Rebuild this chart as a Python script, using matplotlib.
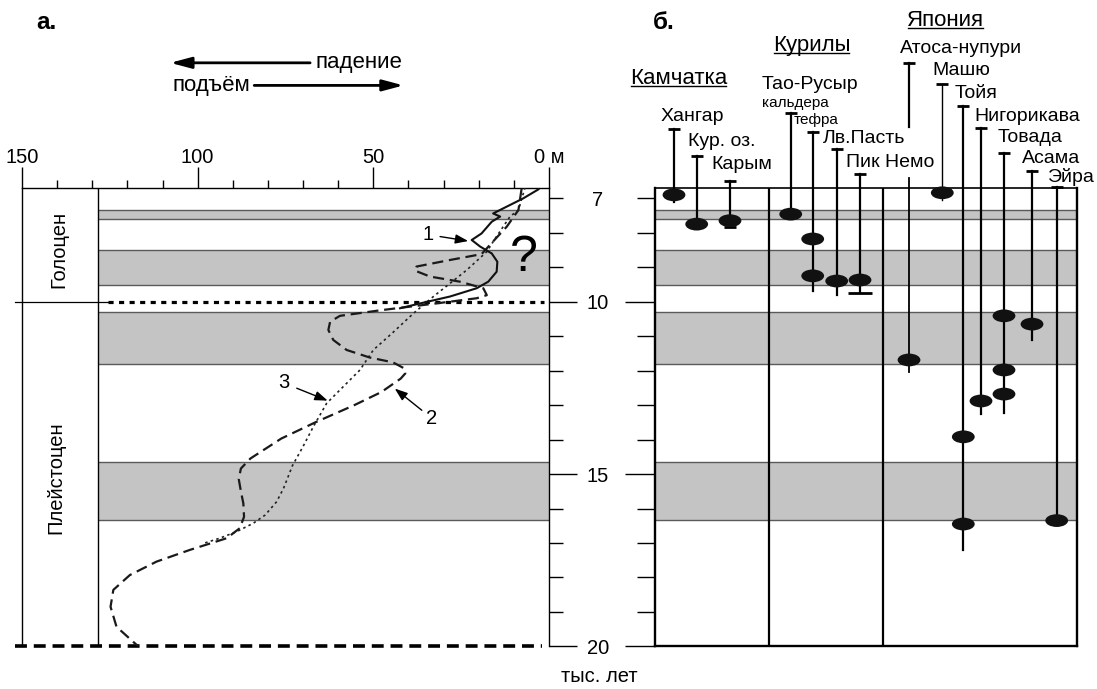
import matplotlib
matplotlib.use('Agg')
import matplotlib.pyplot as plt
from matplotlib.patches import Ellipse
from matplotlib.lines import Line2D
from matplotlib.ticker import FuncFormatter

plt.rcParams['font.family'] = ['Liberation Sans', 'DejaVu Sans']

# ---------------- data ----------------
# cold / warm bands (kyr BP)
band_lo = [7.35, 8.50, 10.31, 14.65]
band_hi = [7.61, 9.52, 11.80, 16.34]

# curve 1 (solid)
c1_m = [3.0, 7.3, 12.0, 15.9, 13.9, 16.3, 19.2, 22.0, 19.6, 16.3, 14.7, 14.9, 17.3,
        20.6, 28.2, 36.7, 42.4]
c1_age = [6.74, 7.00, 7.24, 7.44, 7.53, 7.68, 8.02, 8.21, 8.40, 8.60, 8.84, 9.13, 9.42,
          9.61, 9.85, 10.05, 10.19]

# curve 2 (dashed)
c2_m = [7.8, 8.7, 12.0, 15.9, 19.2, 28.2, 37.7, 38.1, 33.9, 25.3, 18.7, 17.7, 20.6,
        28.2, 37.7, 48.1, 59.5, 62.3, 62.8, 61.4, 57.6, 51.0, 44.4, 41.1,
        40.9, 42.2, 47.7, 55.4, 66.3, 76.2, 85.0, 87.7, 88.3, 87.7, 87.0, 86.8, 88.0,
        91.7, 102.2, 111.7, 119.3, 124.0, 124.8, 123.1, 116.9]
c2_age = [6.72, 7.34, 7.82, 8.25, 8.62, 8.79, 8.98, 9.10, 9.27, 9.42, 9.61, 9.81, 9.90,
          10.00, 10.12, 10.25, 10.41, 10.58, 10.82, 11.11, 11.40, 11.62,
          11.76, 11.94, 12.08, 12.23, 12.62, 13.00, 13.49, 13.97, 14.55, 14.84, 15.15,
          15.50, 15.85, 16.24, 16.57, 16.86, 17.20, 17.54, 17.93, 18.36, 18.85, 19.43,
          20.00]

# curve 3 (dotted)
c3_m = [6.8, 8.7, 11.1, 15.6, 17.7, 23.4, 28.2, 32.9, 38.6, 44.5, 50.0, 53.8, 59.5,
        63.3, 67.1, 70.0, 73.0, 75.5, 77.5, 80.8, 84.2, 88.9, 93.7, 98.0]
c3_age = [6.68, 7.34, 7.53, 8.21, 8.55, 9.08, 9.47, 9.85, 10.34, 10.90, 11.40, 11.98,
          12.56, 12.95, 13.63, 14.20, 14.75, 15.40, 15.80, 16.19, 16.43, 16.67, 16.86,
          17.00]

x_major = [150, 100, 50, 0]
x_major_labels = ['150', '100', '50', '0 м']
y_major = [10, 15, 20]
y_minor = [7, 8, 9, 11, 12, 13, 14, 16, 17, 18, 19]

# volcanoes (panel б)
volc_names = ['Хангар', 'Кур. оз.', 'Карым', 'Тао-Русыр', 'тефра', 'Лв.Пасть',
              'Пик Немо', 'Атоса-нупури', 'Машю', 'Тойя', 'Нигорикава', 'Товада',
              'Асама', 'Эйра']
volc_dates = [[6.90], [7.75], [7.65], [7.46], [8.18, 9.25], [9.40], [9.37], [11.69],
              [6.84], [13.92, 16.45], [12.88], [10.41, 11.98, 12.68], [10.65], [16.35]]
volc_low = [7.10, 7.75, 7.65, 7.46, 9.69, 9.81, 9.74, 12.03, 7.05, 17.20, 13.27,
            13.22, 11.11, 16.35]
volc_bottom_cap = [None, None, 7.84, None, None, None, 9.74, None, None, None, None,
                   None, None, None]

# ---------------- layout ----------------
W, H = 1097, 689
fig = plt.figure(figsize=(W / 100, H / 100), dpi=100)
top_px, bot_px = 188.3, 646.4
ax_bottom = 1 - bot_px / H
ax_height = (bot_px - top_px) / H
AGE_TOP, AGE_BOT = 6.71, 20.0
GRAY = '#c4c4c4'
EDGE = '#5a5a5a'

axL = fig.add_axes([22 / W, ax_bottom, 527 / W, ax_height])
axR = fig.add_axes([655 / W, ax_bottom, 422 / W, ax_height])

# ---------- left panel ----------
axL.set_xlim(150, 0)
axL.set_ylim(AGE_BOT, AGE_TOP)
inner_m = 128.3
for lo, hi in zip(band_lo, band_hi):
    axL.fill_between([inner_m, 0], lo, hi, color=GRAY, lw=0, zorder=0)
    axL.hlines([lo, hi], 0, inner_m, color=EDGE, lw=1.0, zorder=1)
axL.axvline(inner_m, color='k', lw=1.0, zorder=2)

axL.plot([152, 125.5], [10, 10], color='k', lw=0.9, clip_on=False, zorder=3)
axL.plot([125.5, 1.5], [10, 10], color='k', lw=2.3, ls=(0, (1.6, 1.7)),
         dash_capstyle='butt', zorder=3)
axL.plot([152, 2], [20, 20], color='k', lw=2.6, ls=(0, (3.3, 1.9)),
         dash_capstyle='butt', clip_on=False, zorder=3)

axL.plot(c3_m, c3_age, color='#222222', lw=1.2, ls=(0, (1.5, 2.0)), zorder=4)
axL.plot(c2_m, c2_age, color='#1a1a1a', lw=1.6, ls=(0, (5, 2.6)), zorder=4)
axL.plot(c1_m, c1_age, color='#111111', lw=1.5, zorder=5)

# axes styling
for s in ['top', 'left', 'right']:
    axL.spines[s].set_linewidth(1.0)
axL.spines['bottom'].set_visible(False)
axL.xaxis.set_ticks_position('top')
axL.set_xticks(x_major)
axL.set_xticklabels(x_major_labels)
axL.set_xticks(list(range(10, 150, 10)), minor=True)
axL.tick_params(axis='x', which='major', direction='out', length=15, width=1.0,
                labelsize=14.5, pad=0)
axL.tick_params(axis='x', which='minor', direction='out', length=5.8, width=1.0)
axL.yaxis.set_ticks_position('right')
axL.set_yticks(y_major)
axL.set_yticks(y_minor, minor=True)
axL.yaxis.set_minor_formatter(FuncFormatter(lambda v, p: '7' if abs(v - 7) < 1e-6 else ''))
axL.tick_params(axis='y', which='major', direction='out', length=20.2, width=1.0,
                labelsize=14.5, pad=15, labelright=True, labelleft=False)
axL.tick_params(axis='y', which='minor', direction='out', length=10.1, width=1.0,
                labelsize=14.5, pad=25, labelright=True, labelleft=False)
for t in axL.yaxis.get_major_ticks() + axL.yaxis.get_minor_ticks():
    t.label2.set_horizontalalignment('center')

axL.text(-14.2, 20.88, 'тыс. лет', fontsize=14.5, ha='center', va='center')

axL.text(139.6, 8.47, 'Голоцен', rotation=90, fontsize=14.5, ha='center', va='center')
axL.text(140.4, 15.11, 'Плейстоцен', rotation=90, fontsize=14.5, ha='center', va='center')
axL.text(7.3, 8.73, '?', fontsize=36, ha='center', va='center')

small_arrow = dict(arrowstyle='-|>,head_length=0.55,head_width=0.2', lw=1.0,
                   color='k', shrinkA=0, shrinkB=0, mutation_scale=14)
axL.text(34.4, 8.06, '1', fontsize=14.5, ha='center', va='center')
axL.annotate('', xy=(23.0, 8.24), xytext=(31.0, 8.11), arrowprops=small_arrow)
axL.text(75.6, 12.35, '3', fontsize=14.5, ha='center', va='center')
axL.annotate('', xy=(63.0, 12.87), xytext=(71.8, 12.51), arrowprops=small_arrow)
axL.text(33.4, 13.39, '2', fontsize=14.5, ha='center', va='center')
axL.annotate('', xy=(43.9, 12.52), xytext=(36.2, 13.15), arrowprops=small_arrow)

big_arrow = dict(arrowstyle='-|>,head_length=0.9,head_width=0.24', lw=2.0,
                 color='k', shrinkA=0, shrinkB=0, mutation_scale=14)
axL.annotate('', xy=(107.8, 3.07), xytext=(68.0, 3.07), arrowprops=big_arrow,
             annotation_clip=False)
axL.text(66.6, 3.07, 'падение', fontsize=16, ha='left', va='center')
axL.annotate('', xy=(41.4, 3.725), xytext=(83.9, 3.725), arrowprops=big_arrow,
             annotation_clip=False)
axL.text(85.0, 3.725, 'подъём', fontsize=16, ha='right', va='center')
axL.text(146.0, 1.89, 'а.', fontsize=17.5, fontweight='bold', ha='left', va='center')

# ---------- right panel ----------
axR.set_xlim(0, 100)
axR.set_ylim(AGE_BOT, AGE_TOP)
for lo, hi in zip(band_lo, band_hi):
    axR.axhspan(lo, hi, facecolor=GRAY, edgecolor='none', zorder=0)
    axR.axhline(lo, color=EDGE, lw=1.0, zorder=1)
    axR.axhline(hi, color=EDGE, lw=1.0, zorder=1)
dividers = [27.01, 53.96]
for d in dividers:
    axR.axvline(d, color='k', lw=1.6, zorder=2)

for s in ['left', 'right', 'bottom']:
    axR.spines[s].set_linewidth(1.7)
axR.spines['top'].set_linewidth(1.2)
axR.set_xticks([])
axR.yaxis.set_ticks_position('left')
axR.set_yticks(y_major)
axR.set_yticks(y_minor, minor=True)
axR.tick_params(axis='y', which='major', direction='out', length=21.6, width=1.0,
                labelleft=False)
axR.tick_params(axis='y', which='minor', direction='out', length=13.0, width=1.0,
                labelleft=False)

volc_x = [4.50, 9.88, 17.77, 32.16, 37.37, 43.06, 48.58, 60.19, 68.08, 73.06, 77.25,
          82.70, 89.34, 95.19]
volc_cap = [4.99, 5.76, 6.49, 4.53, 5.07, 5.57, 6.30, 3.07, 3.68, 4.32, 4.97, 5.69,
            6.20, 6.68]
volc_lw = [1.6, 1.6, 1.6, 1.6, 1.6, 1.6, 1.6, 1.6, 1.0, 1.6, 1.6, 1.6, 1.6, 1.6]
label_x = [1.35, 7.89, 13.27, 25.28, 32.94, 39.88, 45.26, 58.06, 65.8, 71.09, 75.59,
           81.28, 86.9, 93.2]
label_age = [4.633, 5.358, 6.034, 3.713, 4.729, 5.251, 5.976, 2.640, 3.278, 3.974,
             4.613, 5.222, 5.831, 6.382]
label_size = [14, 14, 14, 14, 11, 14, 14, 14, 14, 14, 14, 14, 14, 14]
cap_w = 2.8
ell_w, ell_h = 5.4, 0.37
atosa_gap = (4.92, 6.42)

for i, name in enumerate(volc_names):
    x = volc_x[i]
    if name == 'Атоса-нупури':
        axR.plot([x, x], [volc_cap[i], atosa_gap[0]], color='k', lw=volc_lw[i],
                 clip_on=False, zorder=3)
        axR.plot([x, x], [atosa_gap[1], volc_low[i]], color='k', lw=1.3,
                 clip_on=False, zorder=3)
    else:
        axR.plot([x, x], [volc_cap[i], volc_low[i]], color='k', lw=volc_lw[i],
                 clip_on=False, zorder=3)
    axR.plot([x - cap_w / 2, x + cap_w / 2], [volc_cap[i]] * 2, color='k', lw=2.0,
             clip_on=False, zorder=3, solid_capstyle='butt')
    if volc_bottom_cap[i] is not None:
        bw = 5.5 if name == 'Пик Немо' else cap_w
        axR.plot([x - bw / 2, x + bw / 2], [volc_bottom_cap[i]] * 2, color='k', lw=2.0,
                 clip_on=False, zorder=3, solid_capstyle='butt')
    for d in volc_dates[i]:
        axR.add_patch(Ellipse((x, d), ell_w, ell_h, facecolor='#111111',
                              edgecolor='none', zorder=4, clip_on=False))
    axR.text(label_x[i], label_age[i], name, fontsize=label_size[i], ha='left',
             va='center', zorder=5)

axR.text(25.28, 4.236, 'кальдера', fontsize=11, ha='left', va='center')

regions = ['Камчатка', 'Курилы', 'Япония']
region_x = [-5.92, 27.89, 59.64]
region_age = [3.519, 2.553, 1.848]
region_texts = [axR.text(x, a, r, fontsize=16, ha='left', va='center')
                for r, x, a in zip(regions, region_x, region_age)]
axR.text(-0.5, 1.886, 'б.', fontsize=17.5, fontweight='bold', ha='left', va='center')

# underline region names
fig.canvas.draw()
renderer = fig.canvas.get_renderer()
inv = fig.transFigure.inverted()
for t in region_texts:
    bb = t.get_window_extent(renderer)
    y = bb.y0 + 3.0
    (x0, yf), (x1, _) = inv.transform([(bb.x0 + 1, y), (bb.x1 - 1, y)])
    fig.add_artist(Line2D([x0, x1], [yf, yf], color='k', lw=1.0,
                          transform=fig.transFigure))

fig.savefig('out.png', dpi=100)
